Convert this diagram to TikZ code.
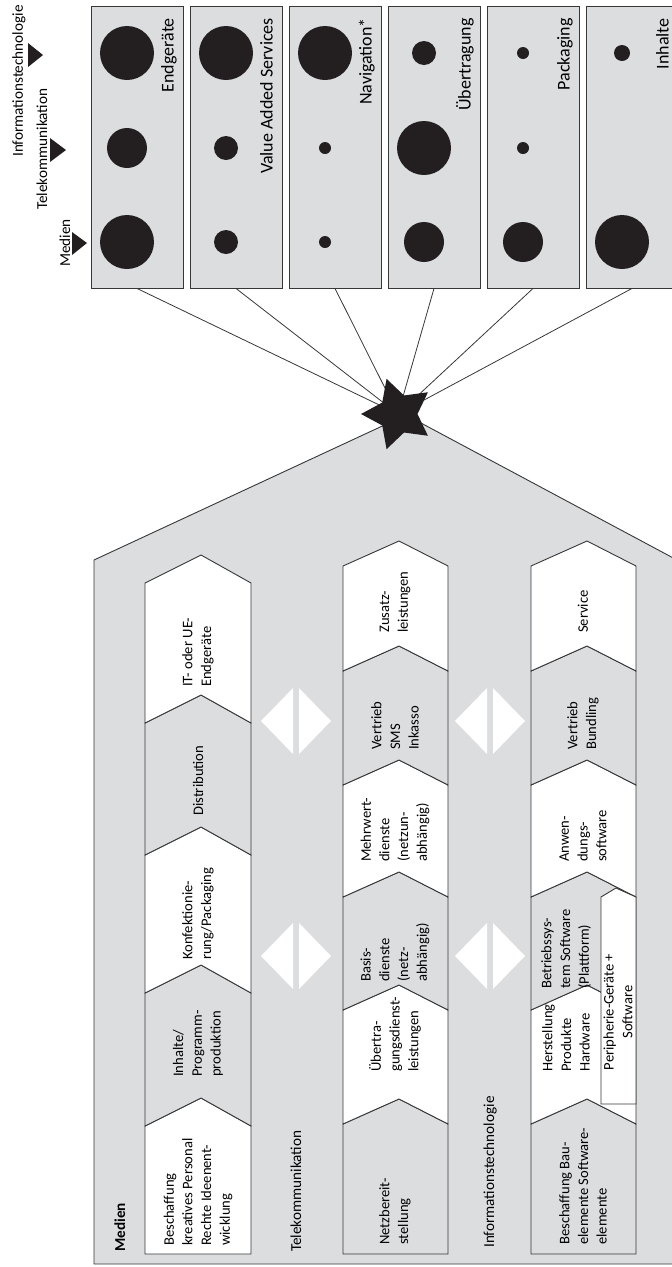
\documentclass[tikz,border=0pt]{standalone}
\usepackage{fontspec}
\setmainfont{Carlito}
\usetikzlibrary{shapes.geometric}
\definecolor{panelgrey}{RGB}{220,221,223}
\definecolor{ink}{RGB}{35,31,32}
\definecolor{rule}{RGB}{55,55,55}

\begin{document}
\begin{tikzpicture}[x=1pt,y=-1pt,
    box/.style={draw=rule,fill=panelgrey,line width=0.9pt,minimum width=92pt,
                minimum height=282pt,inner sep=0pt},
    boxlabel/.style={rotate=90,anchor=base east,inner sep=0pt,
                     font=\fontsize{18}{20}\selectfont},
    legend/.style={rotate=90,anchor=base west,inner sep=0pt,
                   font=\fontsize{15.2}{17}\selectfont},
    chain/.style={rotate=90,anchor=west,inner sep=0pt,align=left,
                  font=\fontsize{14.6}{18.7}\selectfont},
    seg/.style={draw=rule,line width=0.9pt},
    link/.style={draw=rule,line width=0.8pt},
    hubstar/.style={star,star points=5,star point ratio=1.9,minimum size=74pt,
                    inner sep=0pt,fill=ink,shape border rotate=90}]

  \useasboundingbox (0,0) rectangle (672,1267);
  \clip (0,0) rectangle (672,1267);

  % big panel
  \filldraw[seg,fill=panelgrey] (94,560) -- (406,415) -- (720,583)
      -- (720,1264) -- (94,1264) -- cycle;

  % legend
  \fill[ink] (28,43) -- (43,55) -- (28,67) -- cycle;
  \fill[ink] (50,138) -- (66,150) -- (50,162) -- cycle;
  \fill[ink] (72,232) -- (87,243) -- (72,255) -- cycle;
  \node[legend] (lgit) at (23,157) {Informationstechnologie};
  \node[legend] (lgtk) at (47,210) {Telekommunikation};
  \node[legend] (lgmd) at (70,267) {Medien};

  % top boxes
  \foreach \k/\txt in {0/Endgeräte,1/Value Added Services,2/Navigation*,
                       3/Übertragung,4/Packaging,5/Inhalte} {
    \node[box] (b\k) at (137+99*\k,147) {};
    \node[boxlabel] (l\k) at (173.5+99*\k,18) {\txt};
  }
  \foreach \k/\ri/\rt/\rm in {0/27/20/27,1/27/12/12,2/27/6/6,
                              3/12/27/20,4/6/6/20,5/8/0/27} {
    \fill[ink] (127+99*\k,53) circle[radius=\ri pt];
    \fill[ink] (127+99*\k,148) circle[radius=\rt pt];
    \fill[ink] (127+99*\k,242) circle[radius=\rm pt];
  }

  % spokes
  \coordinate (hub) at (398,414);
  \foreach \k in {0,...,5}
    \draw[link] (b\k.south) -- (hub);
  \node[hubstar] (star) at (hub) {};

  % Medien chain
  \foreach \yb/\yt/\db/\fc in {1254/1126/0/white,1126/993/28/panelgrey,
                               993/855/28/white,855/723/28/panelgrey,
                               723/583/28/white}
    \filldraw[seg,fill=\fc] (145,\yb) -- (201,\yb-\db) -- (251,\yb)
        -- (251,\yt) -- (201,\yt-28) -- (145,\yt) -- cycle;

  % Telekommunikation chain
  \foreach \yb/\yt/\db/\fc in {1254/1124/0/panelgrey,1124/1010/25/white,
                               1010/897/25/panelgrey,897/785/25/white,
                               785/671/25/panelgrey,671/566/25/white}
    \filldraw[seg,fill=\fc] (343,\yb) -- (399,\yb-\db) -- (448,\yb)
        -- (448,\yt) -- (399,\yt-25) -- (343,\yt) -- cycle;

  % Informationstechnologie chain
  \foreach \yb/\yt/\db/\fc in {1254/1124/0/panelgrey,1124/1010/25/white,
                               1010/897/25/panelgrey,897/785/25/white,
                               785/671/25/panelgrey,671/566/25/white}
    \filldraw[seg,fill=\fc] (531,\yb) -- (587,\yb-\db) -- (636,\yb)
        -- (636,\yt) -- (587,\yt-25) -- (531,\yt) -- cycle;
  \filldraw[seg,fill=white] (601,1104) -- (601,897) -- (616,888)
      -- (636,897) -- (636,1104) -- cycle;

  % double arrows between chains
  \foreach \cx/\cy in {296/721,296/956,490/721,490/956} {
    \fill[white] (\cx-35,\cy) -- (\cx-3,\cy-33) -- (\cx-3,\cy+33) -- cycle;
    \fill[white] (\cx+35,\cy) -- (\cx+3,\cy-33) -- (\cx+3,\cy+33) -- cycle;
  }

  % row labels
  \node[legend,font=\fontsize{15.2}{17}\selectfont\bfseries] (rmd) at (125,1252) {Medien};
  \node[legend] (rtk) at (301,1252) {Telekommunikation};
  \node[legend] (rit) at (494,1248) {Informationstechnologie};

  % chain texts
  \node[chain] (m1) at (198,1246) {Beschaffung\\kreatives Personal\\Rechte Ideenent-\\wicklung};
  \node[chain] (m2) at (198,1077) {Inhalte/\\Programm-\\produktion};
  \node[chain] (m3) at (198,960)  {Konfektionie-\\rung/Packaging};
  \node[chain] (m4) at (198,816)  {Distribution};
  \node[chain] (m5) at (198,687)  {IT- oder UE-\\Endgeräte};

  \node[chain] (t1) at (395,1245) {Netzbereit-\\stellung};
  \node[chain] (t2) at (395,1072) {Übertra-\\gungsdienst-\\leistungen};
  \node[chain] (t3) at (395,982)  {Basis-\\dienste\\(netz-\\abhängig)};
  \node[chain] (t4) at (395,862)  {Mehrwert-\\dienste\\(netzun-\\abhängig)};
  \node[chain] (t5) at (395,750)  {Vertrieb\\SMS\\Inkasso};
  \node[chain] (t6) at (395,633)  {Zusatz-\\leistungen};

  \node[chain] (i1) at (583,1245) {Beschaffung Bau-\\elemente Software-\\elemente};
  \node[chain] (i2) at (566,1072) {Herstellung\\Produkte\\Hardware};
  \node[chain] (i3) at (566,989)  {Betriebssys-\\tem Software\\(Plattform)};
  \node[chain] (i4) at (583,862)  {Anwen-\\dungs-\\software};
  \node[chain] (i5) at (583,750)  {Vertrieb\\Bundling};
  \node[chain] (i6) at (583,633)  {Service};
  \node[chain,anchor=center,align=center] (pg) at (618,1012) {Peripherie-Geräte +\\Software};
\end{tikzpicture}
\end{document}
